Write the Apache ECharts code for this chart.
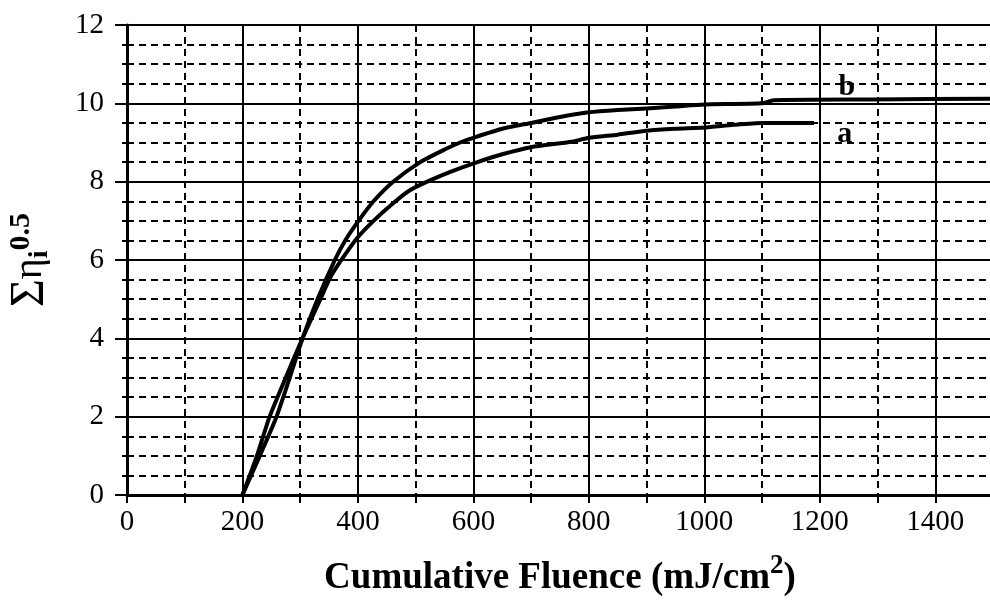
<!DOCTYPE html>
<html>
<head>
<meta charset="utf-8">
<script src="https://cdn.jsdelivr.net/npm/echarts@6/dist/echarts.min.js"></script>
<style>
  html, body { margin: 0; padding: 0; background: #fff; }
  #main { width: 990px; height: 602px; }
</style>
</head>
<body>
<div id="main"></div>
<script>
// curve a
var fluenceA = [200, 225, 247, 275, 304, 335, 352, 369, 398, 427, 461, 490, 520, 560, 607, 650, 700, 770, 800, 850, 900, 950, 1000, 1050, 1100, 1190];
var etaA = [0, 1.0, 2.0, 3.0, 4.0, 5.0, 5.55, 5.95, 6.55, 7.0, 7.45, 7.78, 8.0, 8.25, 8.5, 8.7, 8.88, 9.02, 9.12, 9.2, 9.3, 9.35, 9.38, 9.45, 9.5, 9.5];
// curve b
var fluenceB = [200, 230, 259, 282, 304, 330, 360, 378, 401, 427, 461, 508, 550, 577, 600, 650, 700, 750, 800, 850, 900, 950, 1000, 1100, 1120, 1290, 1500];
var etaB = [0, 1.0, 2.0, 3.0, 4.0, 5.0, 6.0, 6.5, 7.0, 7.5, 8.0, 8.5, 8.82, 9.0, 9.12, 9.35, 9.5, 9.65, 9.77, 9.83, 9.87, 9.92, 9.97, 10.0, 10.08, 10.1, 10.12];
var curveLabels = ['a', 'b'];
var labelPos = [[1243, 9.2], [1247, 10.4]];

var serif = "'Liberation Serif', 'Times New Roman', serif";

function pairs(xs, ys) {
  return xs.map(function (x, i) { return [x, ys[i]]; });
}

var chart = echarts.init(document.getElementById('main'));

var option = {
  backgroundColor: '#fff',
  animation: false,
  grid: { left: 127, right: -3, top: 25, bottom: 107, containLabel: false, outerBoundsMode: 'none' },
  xAxis: [{
    type: 'value',
    position: 'bottom',
    min: 0,
    max: 1500,
    interval: 200,
    name: '{t|Cumulative Fluence (mJ/cm}{s|2}{t|)}',
    nameLocation: 'middle',
    nameGap: 58,
    nameTextStyle: {
      rich: {
        t: { fontFamily: serif, fontWeight: 'bold', fontSize: 37, color: '#000', lineHeight: 44, verticalAlign: 'bottom' },
        s: { fontFamily: serif, fontWeight: 'bold', fontSize: 27, color: '#000', lineHeight: 44, verticalAlign: 'top' }
      }
    },
    axisLine: { show: true, onZero: false, lineStyle: { color: '#000', width: 3 } },
    axisTick: { show: true, length: 8, lineStyle: { color: '#000', width: 2 } },
    axisLabel: {
      color: '#000', fontFamily: serif, fontSize: 29, margin: 13, showMaxLabel: false,
      formatter: function (v) { return String(v); }
    },
    splitLine: { show: true, lineStyle: { color: '#000', width: 2 } }
  }, {
    type: 'value',
    position: 'bottom',
    min: 0,
    max: 1500,
    interval: 100,
    axisLine: { show: false },
    axisTick: { show: true, length: 8, lineStyle: { color: '#000', width: 2 } },
    axisLabel: { show: false },
    splitLine: { show: true, lineStyle: { color: '#000', width: 2, type: [7, 5] } }
  }],
  yAxis: {
    type: 'value',
    min: 0,
    max: 12,
    interval: 2,
    name: '{a|\u03a3}{e|\u03b7}{b|i}{c|0.5}',
    nameLocation: 'middle',
    nameRotate: 90,
    nameGap: 73,
    nameTextStyle: {
      rich: {
        a: { fontFamily: serif, fontSize: 48, color: '#000', lineHeight: 48, verticalAlign: 'middle' },
        e: { fontFamily: serif, fontSize: 40, color: '#000', lineHeight: 48, verticalAlign: 'middle' },
        b: { fontFamily: serif, fontWeight: 'bold', fontSize: 28, color: '#000', lineHeight: 48, verticalAlign: 'bottom' },
        c: { fontFamily: serif, fontWeight: 'bold', fontSize: 30, color: '#000', lineHeight: 48, verticalAlign: 'top' }
      }
    },
    axisLine: { show: true, lineStyle: { color: '#000', width: 3 } },
    axisTick: { show: true, length: 12, lineStyle: { color: '#000', width: 2 } },
    minorTick: { show: true, splitNumber: 4, length: 5, lineStyle: { color: '#000', width: 2 } },
    axisLabel: { color: '#000', fontFamily: serif, fontSize: 29, margin: 23 },
    splitLine: { show: true, lineStyle: { color: '#000', width: 2 } },
    minorSplitLine: { show: true, lineStyle: { color: '#000', width: 2, type: [7, 5] } }
  },
  series: [fluenceA, fluenceB].map(function (xs, k) {
    var ys = k === 0 ? etaA : etaB;
    return {
      name: curveLabels[k],
      type: 'line',
      xAxisIndex: 0,
      data: pairs(xs, ys),
      showSymbol: false,
      smooth: 0.2,
      clip: true,
      lineStyle: { color: '#000', width: 4, join: 'round' },
      markPoint: {
        symbol: 'circle',
        symbolSize: 0,
        data: [{ coord: labelPos[k] }],
        label: {
          show: true,
          position: 'inside',
          formatter: curveLabels[k],
          color: '#000',
          fontFamily: serif,
          fontWeight: 'bold',
          fontSize: 30
        }
      }
    };
  })
};

chart.setOption(option);
</script>
</body>
</html>
